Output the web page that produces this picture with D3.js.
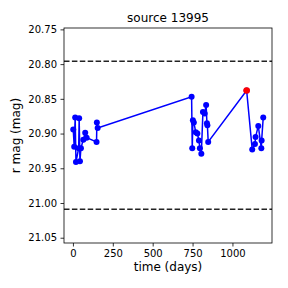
<!DOCTYPE html>
<html>
<head>
<meta charset="utf-8">
<script src="https://cdn.jsdelivr.net/npm/d3@7"></script>
<style>
  body { margin: 0; background: #fff; }
  svg { font-family: "DejaVu Sans", sans-serif; }
</style>
</head>
<body>
<div id="chart"></div>
<script>
// light curve values
const days = [2, 8, 14, 19, 36, 39, 44, 50, 65, 77, 86, 148, 150, 155,
    744, 748, 752, 758, 770, 780, 790, 796, 805, 815, 826, 835, 840, 843, 848,
    1089, 1124, 1141, 1145, 1162, 1181, 1183, 1193];
const mags = [20.894, 20.919, 20.877, 20.941, 20.921, 20.878, 20.940, 20.921, 20.909, 20.899, 20.906, 20.912, 20.884, 20.892,
    20.847, 20.921, 20.881, 20.884, 20.898, 20.900, 20.910, 20.921, 20.929, 20.869, 20.871, 20.859, 20.885, 20.888, 20.912,
    20.838, 20.923, 20.915, 20.905, 20.889, 20.921, 20.910, 20.877];
const flareIndex = 29;           // the red point
const limits = [20.7957, 21.009]; // dashed lines
const xTicks = [0, 250, 500, 750, 1000];
const yTicks = [20.75, 20.80, 20.85, 20.90, 20.95, 21.00, 21.05];

const width = 288;
const height = 288;
const marginTop = 28;
const marginRight = 16;
const marginBottom = 45;
const marginLeft = 64;

const data = days.map((d, i) => ({ t: d, m: mags[i] }));

const svg = d3.select("#chart").append("svg")
    .attr("width", width)
    .attr("height", height);

const x = d3.scaleLinear()
    .domain([-56, 1248])
    .range([marginLeft, width - marginRight]);

// magnitudes: brighter at the top
const y = d3.scaleLinear()
    .domain([20.748, 21.0576])
    .range([marginTop, height - marginBottom]);

// dashed limit lines
svg.selectAll("line.limit")
    .data(limits)
    .enter()
    .append("line")
    .attr("class", "limit")
    .attr("x1", marginLeft)
    .attr("x2", width - marginRight)
    .attr("y1", d => y(d))
    .attr("y2", d => y(d))
    .attr("stroke", "#222")
    .attr("stroke-width", 1.5)
    .attr("stroke-dasharray", "5.5,2.4");

// the light curve
const line = d3.line()
    .x(d => x(d.t))
    .y(d => y(d.m));

svg.append("path")
    .datum(data)
    .attr("d", line)
    .attr("fill", "none")
    .attr("stroke", "#0000ff")
    .attr("stroke-width", 1.5);

svg.selectAll("circle.pt")
    .data(data)
    .enter()
    .append("circle")
    .attr("class", "pt")
    .attr("cx", d => x(d.t))
    .attr("cy", d => y(d.m))
    .attr("r", 3)
    .attr("fill", "#0000ff");

svg.append("circle")
    .attr("cx", x(data[flareIndex].t))
    .attr("cy", y(data[flareIndex].m))
    .attr("r", 3.3)
    .attr("fill", "#ff0000");

// axes
const gx = svg.append("g")
    .attr("transform", `translate(0,${height - marginBottom})`)
    .call(d3.axisBottom(x).tickValues(xTicks).tickSize(3.5).tickPadding(3.5).tickFormat(d3.format("d")));

const gy = svg.append("g")
    .attr("transform", `translate(${marginLeft},0)`)
    .call(d3.axisLeft(y).tickValues(yTicks).tickSize(3.5).tickPadding(3.5).tickFormat(d3.format(".2f")));

[gx, gy].forEach(g => {
    g.select(".domain").remove();
    g.selectAll("text").attr("font-size", 10).attr("fill", "#000").attr("font-family", "DejaVu Sans");
    g.selectAll("line").attr("stroke", "#000").attr("stroke-width", 0.8);
});

// frame
svg.append("rect")
    .attr("x", marginLeft)
    .attr("y", marginTop)
    .attr("width", width - marginLeft - marginRight)
    .attr("height", height - marginTop - marginBottom)
    .attr("fill", "none")
    .attr("stroke", "#000")
    .attr("stroke-width", 0.8);

// titles
svg.append("text")
    .attr("x", (marginLeft + width - marginRight) / 2)
    .attr("y", 21.5)
    .attr("text-anchor", "middle")
    .attr("font-size", 12)
    .text("source 13995");

svg.append("text")
    .attr("x", (marginLeft + width - marginRight) / 2)
    .attr("y", 271)
    .attr("text-anchor", "middle")
    .attr("font-size", 12)
    .text("time (days)");

svg.append("text")
    .attr("transform", "rotate(-90)")
    .attr("x", -(marginTop + height - marginBottom) / 2)
    .attr("y", 20)
    .attr("text-anchor", "middle")
    .attr("font-size", 12)
    .text("r mag (mag)");
</script>
</body>
</html>
